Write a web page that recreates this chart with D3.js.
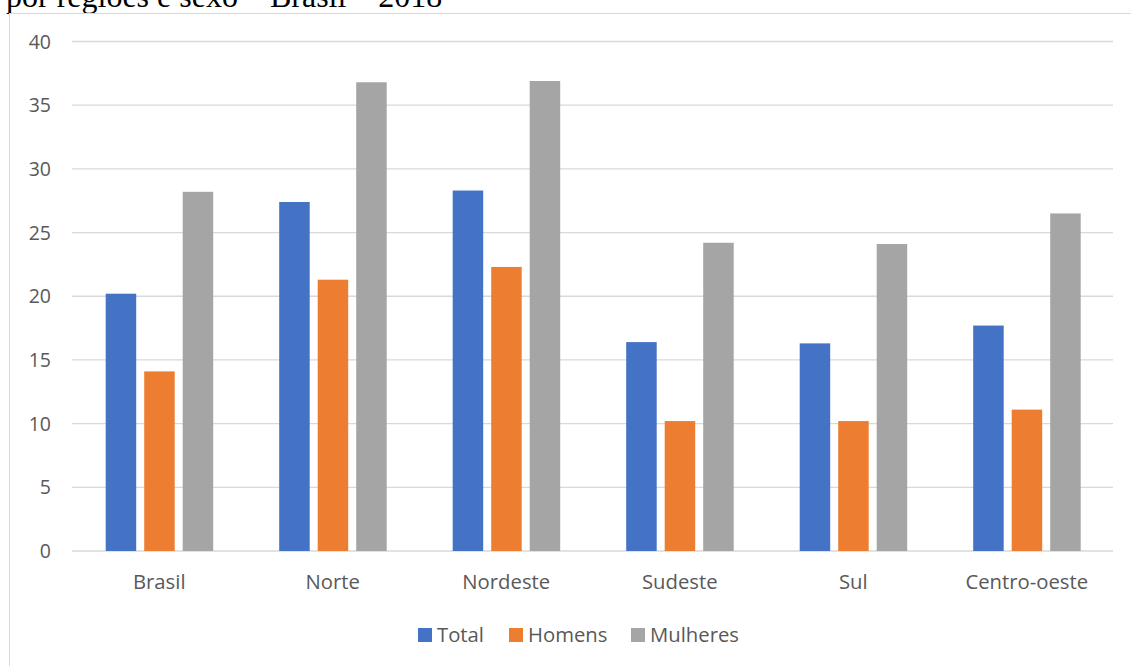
<!DOCTYPE html>
<html>
<head>
<meta charset="utf-8">
<script src="https://cdn.jsdelivr.net/npm/d3@7"></script>
<style>
  html, body { margin: 0; padding: 0; background: #fff; }
  svg { display: block; }
</style>
</head>
<body>
<svg id="chart" width="1131" height="666"></svg>
<script>
const categories = ["Brasil", "Norte", "Nordeste", "Sudeste", "Sul", "Centro-oeste"];
const seriesNames = ["Total", "Homens", "Mulheres"];
const totalValues = [20.2, 27.4, 28.3, 16.4, 16.3, 17.7];
const homensValues = [14.1, 21.3, 22.3, 10.2, 10.2, 11.1];
const mulheresValues = [28.2, 36.8, 36.9, 24.2, 24.1, 26.5];
const yTicks = [0, 5, 10, 15, 20, 25, 30, 35, 40];
const titleText = "por regiões e sexo – Brasil – 2018";

const seriesValues = [totalValues, homensValues, mulheresValues];
const colors = ["#4472C4", "#ED7D31", "#A5A5A5"];

const svg = d3.select("#chart");
const W = 1131, H = 666;
const plot = { left: 72, right: 1113, top: 41.5, bottom: 551 };
const font = "'Open Sans', Lato, sans-serif";
const fs = 19.5;
const legendFs = 20.3;

// partially visible title at top (cut off by the page edge, as in the source)
svg.append("text")
  .attr("x", 6).attr("y", 7)
  .attr("font-family", "'Liberation Serif', 'Times New Roman', serif")
  .attr("font-size", 32)
  .attr("fill", "#000")
  .text(titleText);

// chart frame
svg.append("rect")
  .attr("x", 9.5).attr("y", 13.5)
  .attr("width", W + 20).attr("height", H + 20)
  .attr("fill", "#fff")
  .attr("stroke", "#d9d9d9").attr("stroke-width", 1);

const x = d3.scaleBand().domain(categories).range([plot.left, plot.right]).paddingInner(0).paddingOuter(0);
const xs = d3.scaleBand().domain(seriesNames).range([0, x.bandwidth()]).paddingInner(0.208).paddingOuter(0.857);
const y = d3.scaleLinear().domain([0, 40]).range([plot.bottom, plot.top]);

// gridlines
svg.append("g").selectAll("line").data(yTicks).join("line")
  .attr("x1", plot.left).attr("x2", plot.right)
  .attr("y1", d => y(d)).attr("y2", d => y(d))
  .attr("stroke", "#d9d9d9").attr("stroke-width", 1.3);

// y tick labels
svg.append("g").selectAll("text").data(yTicks).join("text")
  .attr("x", 51).attr("y", d => y(d))
  .attr("dy", "0.36em")
  .attr("text-anchor", "end")
  .attr("font-family", font).attr("font-size", fs)
  .attr("fill", "#595959")
  .text(d => d);

// bars
const groups = svg.append("g").selectAll("g").data(categories).join("g")
  .attr("transform", c => `translate(${x(c) + 0.7},0)`);
groups.selectAll("rect").data((c, i) => seriesNames.map((s, j) => ({ s, j, v: seriesValues[j][i] })))
  .join("rect")
  .attr("x", d => xs(d.s))
  .attr("width", xs.bandwidth())
  .attr("y", d => y(d.v))
  .attr("height", d => y(0) - y(d.v))
  .attr("fill", d => colors[d.j]);

// x labels
svg.append("g").selectAll("text").data(categories).join("text")
  .attr("x", c => x(c) + x.bandwidth() / 2 + 0.5)
  .attr("y", 589)
  .attr("text-anchor", "middle")
  .attr("font-family", font).attr("font-size", legendFs)
  .attr("fill", "#595959")
  .text(c => c);

// legend
const legendX = [418, 509, 631];
const lg = svg.append("g").selectAll("g").data(seriesNames).join("g")
  .attr("transform", (s, i) => `translate(${legendX[i]},0)`);
lg.append("rect").attr("x", 0).attr("y", 628).attr("width", 14).attr("height", 14)
  .attr("fill", (s, i) => colors[i]);
lg.append("text").attr("x", 19).attr("y", 642)
  .attr("font-family", font).attr("font-size", legendFs)
  .attr("fill", "#595959")
  .text(s => s);
</script>
</body>
</html>
